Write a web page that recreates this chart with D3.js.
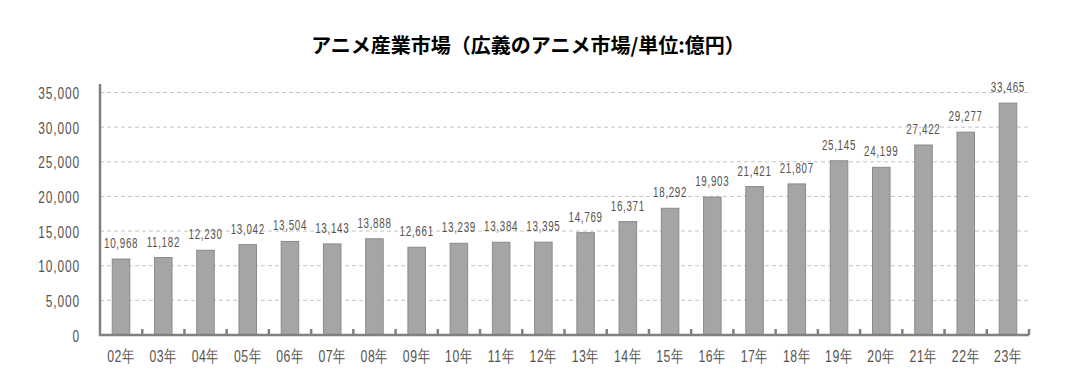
<!DOCTYPE html>
<html><head><meta charset="utf-8">
<script src="https://cdn.jsdelivr.net/npm/d3@7"></script>
<style>
body{margin:0;background:#fff;}
svg text.n{font-family:"Liberation Sans","Arimo",sans-serif;}
</style></head>
<body><svg id="c" width="1065" height="374"></svg>
<script>
const title = "アニメ産業市場（広義のアニメ市場/単位:億円）";
const categories = ["02年","03年","04年","05年","06年","07年","08年","09年","10年","11年","12年","13年","14年","15年","16年","17年","18年","19年","20年","21年","22年","23年"];
const values = [10968,11182,12230,13042,13504,13143,13888,12661,13239,13384,13395,14769,16371,18292,19903,21421,21807,25145,24199,27422,29277,33465];
const yTicks = [0,5000,10000,15000,20000,25000,30000,35000];

const svg = d3.select("#c");
const mLeft = 100, mRight = 1029, mTop = 92.5, mBottom = 335;
const x = d3.scaleBand().domain(categories).range([mLeft, mRight]).paddingInner(0.585).paddingOuter(0.29);
const xb = d3.scaleBand().domain(categories).range([mLeft, mRight]);
const y = d3.scaleLinear().domain([0, 35000]).range([mBottom, mTop]);
const fmt = d3.format(",");

svg.append("text").attr("x", 528).attr("y", 53).attr("text-anchor", "middle")
  .style("font-family", "'Noto Sans CJK JP',sans-serif").style("font-weight", "bold")
  .style("font-size", "20px").attr("fill", "#000").text(title);

// gridlines
svg.append("g").selectAll("line").data(yTicks.filter(d => d > 0)).join("line")
  .attr("x1", mLeft).attr("x2", mRight).attr("y1", d => y(d)).attr("y2", d => y(d))
  .attr("stroke", "#c4c4c4").attr("stroke-width", 1).attr("stroke-dasharray", "4,3");

// y axis
const ya = svg.append("g").attr("transform", `translate(${mLeft},0)`)
  .call(d3.axisLeft(y).tickValues(yTicks).tickSize(0).tickPadding(0).tickFormat(d => fmt(d)));
ya.select(".domain").remove();
ya.selectAll(".tick text").attr("class", "n").attr("x", null).attr("dy", "0.36em")
  .attr("transform", `translate(-20,0) scale(0.7,1)`)
  .attr("fill", "#57524e").style("font-size", "17px").style("letter-spacing", "1.3px");
svg.append("line").attr("x1", mLeft).attr("x2", mLeft).attr("y1", 84).attr("y2", mBottom + 1)
  .attr("stroke", "#808080").attr("stroke-width", 2.5);

// bars
svg.append("g").selectAll("rect").data(values).join("rect")
  .attr("x", (d, i) => x(categories[i])).attr("width", x.bandwidth())
  .attr("y", d => y(d)).attr("height", d => mBottom - y(d))
  .attr("fill", "#a5a5a5").attr("stroke", "#8a8a8a").attr("stroke-width", 1);

// x axis
svg.append("line").attr("x1", mLeft - 1).attr("x2", mRight).attr("y1", mBottom).attr("y2", mBottom)
  .attr("stroke", "#808080").attr("stroke-width", 2.5);
svg.append("g").selectAll("line").data(categories).join("line")
  .attr("x1", d => xb(d) + xb.bandwidth()).attr("x2", d => xb(d) + xb.bandwidth())
  .attr("y1", mBottom).attr("y2", mBottom - 6).attr("stroke", "#808080").attr("stroke-width", 2.5);
svg.append("g").selectAll("text").data(categories).join("text").attr("class", "n")
  .attr("transform", d => `translate(${xb(d) + xb.bandwidth() / 2},362) scale(0.72,1)`)
  .attr("text-anchor", "middle")
  .attr("fill", "#57524e").style("font-size", "17px").style("letter-spacing", "0.8px").text(d => d);

// value labels
svg.append("g").selectAll("text").data(values).join("text").attr("class", "n")
  .attr("transform", (d, i) => `translate(${xb(categories[i]) + xb.bandwidth() / 2},${y(d) - 11}) scale(0.7,1)`)
  .attr("text-anchor", "middle").attr("fill", "#57524e").style("font-size", "14px").style("letter-spacing", "1px")
  .text(d => fmt(d));
</script></body></html>
